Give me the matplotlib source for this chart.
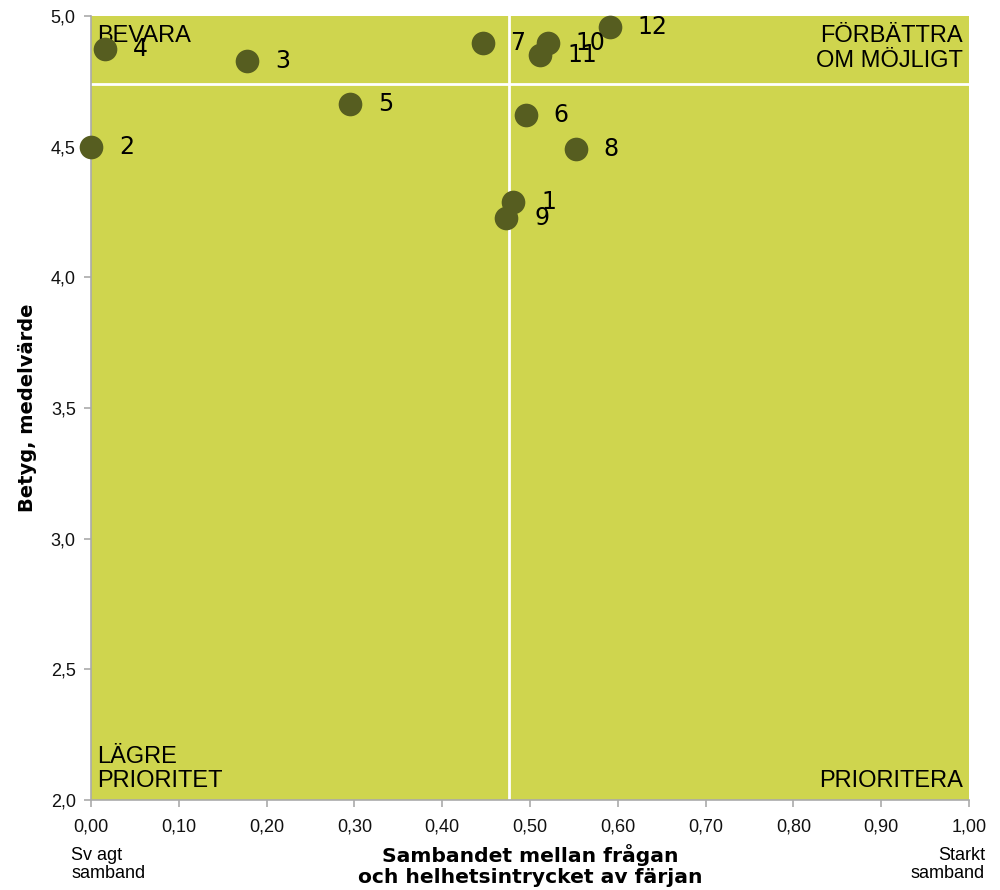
import matplotlib
matplotlib.use("Agg")
import matplotlib.pyplot as plt
from matplotlib.ticker import FuncFormatter, MultipleLocator

labels = ["1", "2", "3", "4", "5", "6", "7", "8", "9", "10", "11", "12"]
samband = [0.481, 0.000, 0.178, 0.016, 0.295, 0.495, 0.446, 0.552, 0.473, 0.520, 0.511, 0.591]
betyg = [4.288, 4.500, 4.828, 4.874, 4.663, 4.621, 4.897, 4.491, 4.227, 4.897, 4.851, 4.958]
x_ref = 0.476
y_ref = 4.74

bg = "#CFD54E"
dot = "#565D20"

fig = plt.figure(figsize=(10, 8.9), dpi=100)
ax = fig.add_axes([0.091, 0.1011, 0.878, 0.8809])
ax.set_facecolor(bg)
ax.set_xlim(0, 1)
ax.set_ylim(2.0, 5.0)

ax.axvline(x_ref, color="white", lw=2, zorder=1)
ax.axhline(y_ref, color="white", lw=2, zorder=1)

ax.scatter(samband, betyg, s=290, color=dot, zorder=5, clip_on=False, linewidths=0)
for lab, xv, yv in zip(labels, samband, betyg):
    ax.annotate(lab, (xv, yv), xytext=(20, 0), textcoords="offset points",
                ha="left", va="center", fontsize=17, family="DejaVu Sans", zorder=6)

qfont = dict(fontsize=17, family="Liberation Sans")
ax.text(0.007, 4.965, "BEVARA", ha="left", va="top", **qfont)
ax.text(0.993, 4.965, "FÖRBÄTTRA\nOM MÖJLIGT", ha="right", va="top", linespacing=1.15, **qfont)
ax.text(0.007, 2.03, "LÄGRE\nPRIORITET", ha="left", va="bottom", linespacing=1.15, **qfont)
ax.text(0.993, 2.03, "PRIORITERA", ha="right", va="bottom", **qfont)

for s in ["top", "right"]:
    ax.spines[s].set_visible(False)
for s in ["left", "bottom"]:
    ax.spines[s].set_color("#AAAAAA")
    ax.spines[s].set_linewidth(1.2)

ax.xaxis.set_major_locator(MultipleLocator(0.1))
ax.yaxis.set_major_locator(MultipleLocator(0.5))
ax.xaxis.set_major_formatter(FuncFormatter(lambda v, p: f"{v:.2f}".replace(".", ",")))
ax.yaxis.set_major_formatter(FuncFormatter(lambda v, p: f"{v:.1f}".replace(".", ",")))
ax.tick_params(axis="both", direction="out", length=5, width=1.2, color="#AAAAAA",
               labelsize=13, labelcolor="#111111")
for t in ax.get_xticklabels() + ax.get_yticklabels():
    t.set_family("Liberation Sans")
ax.tick_params(axis="x", pad=8)
ax.tick_params(axis="y", pad=6)

ax.set_ylabel("Betyg, medelvärde", fontsize=14, fontweight="bold", family="DejaVu Sans", labelpad=10)
fig.text(0.53, 0.003, "Sambandet mellan frågan\noch helhetsintrycket av färjan", ha="center", va="bottom",
         fontsize=14.6, fontweight="bold", family="DejaVu Sans", linespacing=1.15)
fig.text(0.071, 0.009, "Sv agt\nsamband", ha="left", va="bottom", fontsize=13, family="Liberation Sans", linespacing=1.1)
fig.text(0.985, 0.009, "Starkt\nsamband", ha="right", va="bottom", fontsize=13, family="Liberation Sans", linespacing=1.1, multialignment="right")

fig.savefig("out.png", dpi=100)
